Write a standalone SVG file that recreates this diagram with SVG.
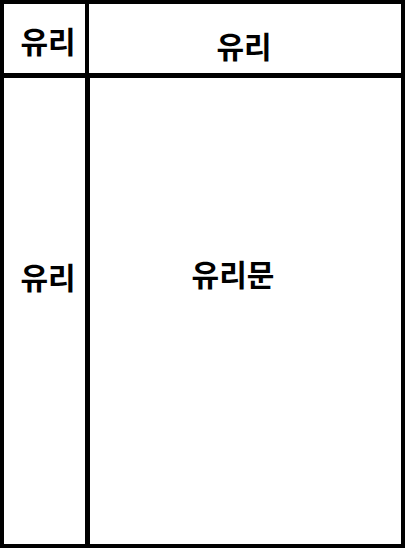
<svg xmlns="http://www.w3.org/2000/svg" width="405" height="548" viewBox="0 0 405 548">
<style>
.cell{fill:#fff;stroke:#000;stroke-width:4}
.lbl{font-family:"Noto Sans CJK KR","Noto Sans",sans-serif;font-weight:bold;font-size:30px;fill:#000;text-anchor:middle}
</style>
<rect width="405" height="548" fill="#fff"/>
<g id="glass-top-left"><rect class="cell" x="2" y="2" width="85" height="73"/><text class="lbl" x="48" y="53">유리</text></g>
<g id="glass-top"><rect class="cell" x="87" y="2" width="316" height="73"/><text class="lbl" x="244" y="58">유리</text></g>
<g id="glass-left"><rect class="cell" x="2" y="76" width="85" height="470"/><text class="lbl" x="48" y="289">유리</text></g>
<g id="glass-door"><rect class="cell" x="88" y="76" width="315" height="470"/><text class="lbl" x="233" y="286">유리문</text></g>
<g id="connectors"></g>
</svg>
